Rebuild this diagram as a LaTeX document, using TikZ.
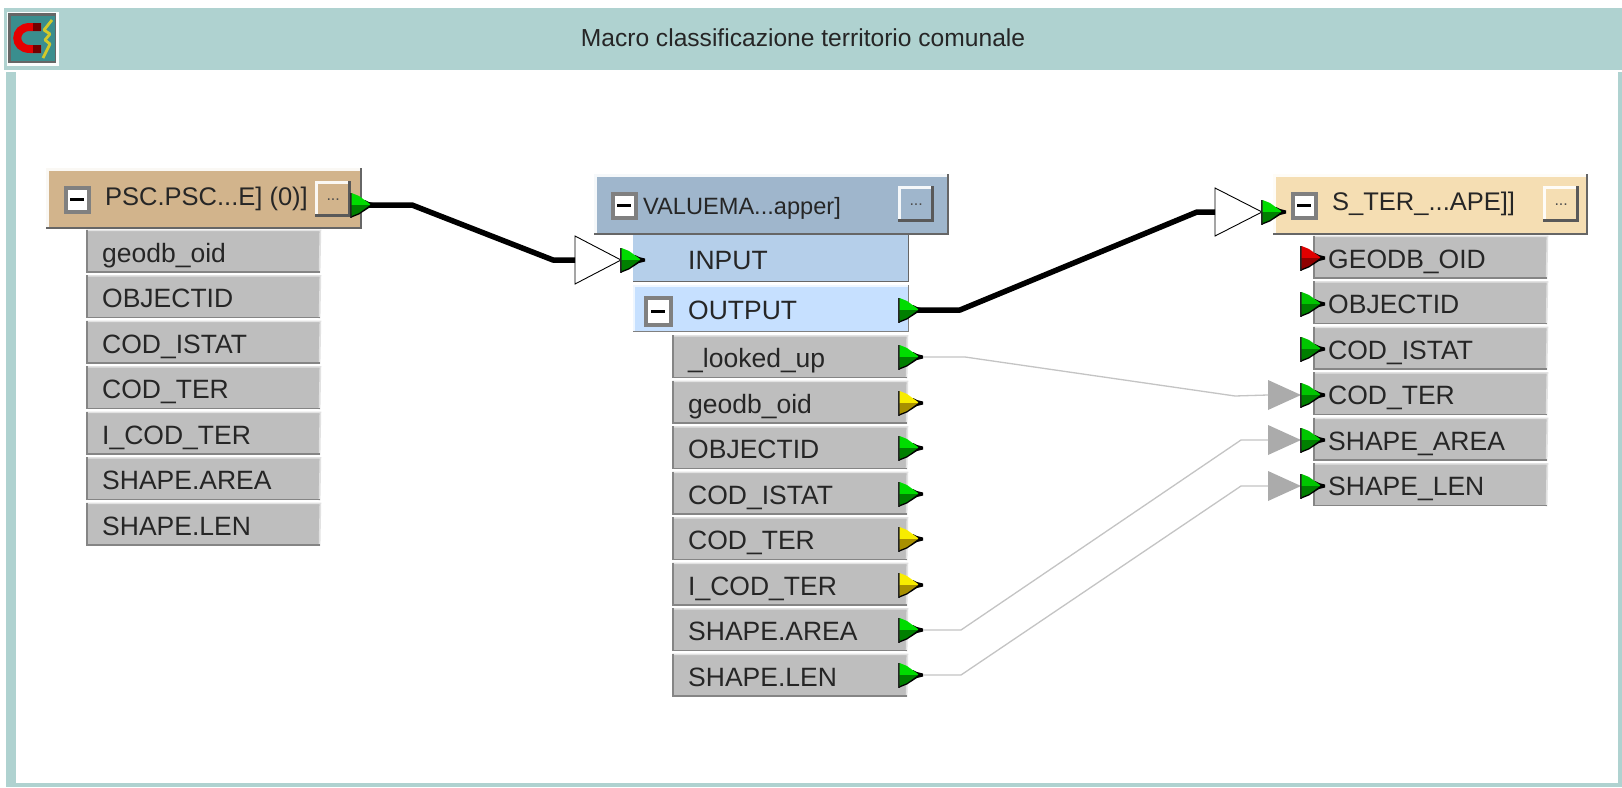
\documentclass[tikz,border=0pt]{standalone}
\usepackage{fontspec}
\setmainfont{Liberation Sans}
\definecolor{frameC}{HTML}{AFD2D0}
\definecolor{tanC}{HTML}{D2B48C}
\definecolor{steelC}{HTML}{9FB6CC}
\definecolor{wheatC}{HTML}{F5DEB3}
\definecolor{inputC}{HTML}{B5CFEA}
\definecolor{outputC}{HTML}{C6E0FF}
\definecolor{rowC}{HTML}{BEBEBE}
\definecolor{greenB}{HTML}{00DC00}
\definecolor{greenD}{HTML}{007F00}
\definecolor{yellowB}{HTML}{F8EC00}
\definecolor{yellowD}{HTML}{A89000}
\definecolor{redB}{HTML}{E00000}
\definecolor{redD}{HTML}{900000}
\definecolor{tealC}{HTML}{3A8E8E}
\definecolor{wireC}{HTML}{C4C4C4}
\definecolor{arrowC}{HTML}{ABABAB}
\tikzset{
  rowbox/.style={draw=none,fill=rowC,rectangle,anchor=north west,inner ysep=0pt,inner xsep=#1,
    minimum height=43pt,text height=24pt,text depth=2pt,font=\fontsize{26.5}{30}\selectfont,text=black!85},
  rowbox/.default=16pt,
  headbox/.style={draw=none,rectangle,anchor=north west,inner sep=0pt},
  headtext/.style={anchor=west,inner sep=0pt,font=\fontsize{25.5}{30}\selectfont,text=black!85},
  minusbox/.style={draw=black!50,line width=3.5pt,fill=white,rectangle,anchor=north west,inner sep=0pt,
    minimum width=23pt,minimum height=24pt,font=\fontsize{1}{1}\selectfont},
  btn/.style={rectangle,anchor=north west,inner sep=0pt,font=\fontsize{16}{16}\selectfont,text=black!70},
  wirethick/.style={line width=5.5pt,black,line join=round},
  wirethin/.style={line width=1.3pt,wireC,line join=round},
}
\newcommand{\bevel}[4]{% name, light, dark, width
  \draw[#2,line width=#4] ([xshift=.5*#4,yshift=0pt]#1.south west) -- ([xshift=.5*#4,yshift=-.5*#4]#1.north west) -- ([yshift=-.5*#4]#1.north east);
  \draw[#3,line width=#4] ([yshift=.5*#4]#1.south west) -- ([xshift=-.5*#4,yshift=.5*#4]#1.south east) -- ([xshift=-.5*#4]#1.north east);
}
\newcommand{\rowbevel}[1]{%
  \draw[white!55!rowC,line width=1.7pt] ([yshift=-.85pt]#1.north west) -- ([yshift=-.85pt]#1.north east) -- ([xshift=-.85pt]#1.south east);
  \draw[black!48,line width=1.7pt] ([xshift=.85pt]#1.north west) -- ([xshift=.85pt,yshift=.85pt]#1.south west) -- ([yshift=.85pt]#1.south east);
}
\newcommand{\minusmark}[1]{\fill[black] ([xshift=-7pt,yshift=-1.5pt]#1.center) rectangle ([xshift=7pt,yshift=1.5pt]#1.center);}
% name, x, y, bright, dark
\newcommand{\porticon}[5]{%
  \coordinate (#1) at (#2,#3);
  \coordinate (#1-tip) at (#2+25,#3);
  \begin{scope}[shift={(#2,#3)}]
    \fill[black!85] (0,-12.5) -- (1.6,-12.5) -- (1.6,12.5) -- (0,12.5) -- cycle;
    \fill[black] (1.6,12.5) -- (9,9.5) -- (19,3) -- (25,1.5) -- (25,-1.5) -- (19,-3) -- (15,-5) -- (15,0) -- (1.6,9) -- cycle;
    \fill[#4] (1.6,-12) -- (9,-9) -- (20,-1) -- (20,0) -- (1.6,0) -- cycle;
    \fill[#5] (1.6,0) -- (20,0) -- (9,8) -- (1.6,11) -- cycle;
  \end{scope}
}
\begin{document}
\begin{tikzpicture}[x=1pt,y=-1pt]
\useasboundingbox (0,0) rectangle (1622,787);
\fill[white] (0,0) rectangle (1622,787);
% window frame
\fill[frameC] (4,8) rectangle (1622,70);
\fill[frameC] (6,72) rectangle (16,787);
\fill[frameC] (6,783) rectangle (1622,787);
\fill[frameC] (1618,72) rectangle (1622,787);
\node[anchor=center,inner sep=0pt,font=\fontsize{24.6}{28}\selectfont,text=black!85] (title) at (803,38) {Macro classificazione territorio comunale};
% icon
\fill[white!95!frameC] (7,12) rectangle (59,66);
\fill[black!60] (8,13) rectangle (56,63);
\fill[tealC] (11,16) rectangle (55,61);
\draw[red!90!black,line width=8pt] (41,27) -- (30,27) .. controls (13,27) and (13,49) .. (30,49) -- (41,49);
\draw[red!45!black,line width=8pt] (33,27) -- (41,27) (33,49) -- (41,49);
\draw[yellow!80!black,line width=2.8pt,line join=bevel] (52,20) -- (44,30) -- (50,34) -- (45,40) -- (50,44) -- (43,58);
% left table
\node[headbox,fill=tanC,minimum width=316pt,minimum height=61pt] (hA) at (46,168) {};
\bevel{hA}{white!90!tanC}{black!60}{2.5pt}
\node[minusbox] (mA) at (64,186) {};
\minusmark{mA}
\node[headtext] (tA) at (105,199) {PSC.PSC...E] (0)]};
\node[btn,fill=tanC,minimum width=36pt,minimum height=36pt] (bA) at (315,181) {...};
\bevel{bA}{white!90!tanC}{black!65}{3pt}
\foreach \n/\t [count=\i from 0] in {geodb/geodb\_oid,objid/OBJECTID,istat/COD\_ISTAT,ter/COD\_TER,iter/I\_COD\_TER,area/SHAPE.AREA,len/SHAPE.LEN}{
  \node[rowbox,minimum width=234pt,text width=202pt] (a\n) at (86,229.5+45.5*\i) {\t};
  \rowbevel{a\n}
}
% middle table
\node[headbox,fill=steelC,minimum width=355pt,minimum height=61pt] (hB) at (594,174) {};
\bevel{hB}{white!90!steelC}{black!60}{2.5pt}
\node[minusbox] (mB) at (611,192) {};
\minusmark{mB}
\node[headtext,font=\fontsize{23.6}{28}\selectfont] (tB) at (643,208) {VALUEMA...apper]};
\node[btn,fill=steelC,minimum width=36pt,minimum height=36pt] (bB) at (898,186) {...};
\bevel{bB}{white!90!steelC}{black!65}{3pt}
\node[rowbox=55pt,fill=inputC,minimum width=276pt,minimum height=47pt,text width=166pt] (rIn) at (633,235) {INPUT};
\bevel{rIn}{inputC}{black!60}{1.7pt}
\node[rowbox=55pt,fill=outputC,minimum width=276pt,minimum height=47pt,text width=166pt] (rOut) at (633,285) {OUTPUT};
\bevel{rOut}{white!70!outputC}{black!50}{1.7pt}
\node[minusbox,minimum width=25pt,minimum height=27pt] (mOut) at (644,296) {};
\minusmark{mOut}
\foreach \n/\t [count=\i from 0] in {looked/\_looked\_up,geodb/geodb\_oid,objid/OBJECTID,istat/COD\_ISTAT,ter/COD\_TER,iter/I\_COD\_TER,area/SHAPE.AREA,len/SHAPE.LEN}{
  \node[rowbox,minimum width=235pt,text width=203pt] (b\n) at (672,335+45.5*\i) {\t};
  \rowbevel{b\n}
}
% right table
\node[headbox,fill=wheatC,minimum width=315pt,minimum height=61pt] (hC) at (1273,174) {};
\bevel{hC}{white!90!wheatC}{black!60}{2.5pt}
\node[minusbox] (mC) at (1291,192) {};
\minusmark{mC}
\node[headtext] (tC) at (1332,204) {S\_TER\_...APE]]};
\node[btn,fill=wheatC,minimum width=36pt,minimum height=36pt] (bC) at (1543,186) {...};
\bevel{bC}{white!90!wheatC}{black!65}{3pt}
\foreach \n/\t [count=\i from 0] in {geodb/GEODB\_OID,objid/OBJECTID,istat/COD\_ISTAT,ter/COD\_TER,area/SHAPE\_AREA,len/SHAPE\_LEN}{
  \node[rowbox=15pt,minimum width=234pt,text width=204pt] (c\n) at (1313,235.5+45.5*\i) {\t};
  \rowbevel{c\n}
}
% connector ends
\coordinate (tIn) at (575,260);
\coordinate (tC0) at (1215,212);
\coordinate (gTer) at (1268,395);
\coordinate (gArea) at (1268,440);
\coordinate (gLen) at (1268,486);
\coordinate (wA) at (350,205);
\coordinate (wOut) at (898,310);
% gray arrowheads
\foreach \g in {gTer,gArea,gLen}{
  \fill[arrowC] ([yshift=-15pt]\g) -- ([xshift=33pt]\g) -- ([yshift=15pt]\g) -- cycle;
}
% white triangles
\draw[black,line width=.9pt,fill=white] ([yshift=-24pt]tIn) -- ([xshift=46pt]tIn) -- ([yshift=24pt]tIn) -- cycle;
\draw[black,line width=.9pt,fill=white] ([yshift=-24pt]tC0) -- ([xshift=47pt]tC0) -- ([yshift=24pt]tC0) -- cycle;
% connectors
\draw[wirethick] (wA) -- ++(62,0) -- ([xshift=-22pt]tIn) -- (tIn);
\draw[wirethick] (wOut) -- ++(62,0) -- ([xshift=-18pt]tC0) -- (tC0);
% port icons
\porticon{pA}{350}{205}{greenB}{greenD}
\porticon{pIn}{620}{260}{greenB}{greenD}
\porticon{pOut}{898}{310}{greenB}{greenD}
\porticon{pB1}{898}{357}{greenB}{greenD}
\porticon{pB2}{898}{403}{yellowB}{yellowD}
\porticon{pB3}{898}{448}{greenB}{greenD}
\porticon{pB4}{898}{494}{greenB}{greenD}
\porticon{pB5}{898}{539}{yellowB}{yellowD}
\porticon{pB6}{898}{585}{yellowB}{yellowD}
\porticon{pB7}{898}{630}{greenB}{greenD}
\porticon{pB8}{898}{675}{greenB}{greenD}
\porticon{pC0}{1261}{212}{greenB}{greenD}
\porticon{pC1}{1300}{258}{redB}{redD}
\porticon{pC2}{1300}{304}{greenB!90!black}{greenD}
\porticon{pC3}{1300}{349}{greenB!90!black}{greenD}
\porticon{pC4}{1300}{395}{greenB!90!black}{greenD}
\porticon{pC5}{1300}{440}{greenB!90!black}{greenD}
\porticon{pC6}{1300}{486}{greenB!90!black}{greenD}
\draw[wirethin] (pB1-tip) -- ++(42,0) -- ([xshift=-33pt,yshift=-1pt]gTer) -- (gTer);
\draw[wirethin] (pB7-tip) -- ++(38,0) -- ([xshift=-27pt]gArea) -- (gArea);
\draw[wirethin] (pB8-tip) -- ++(38,0) -- ([xshift=-27pt]gLen) -- (gLen);
\end{tikzpicture}
\end{document}
